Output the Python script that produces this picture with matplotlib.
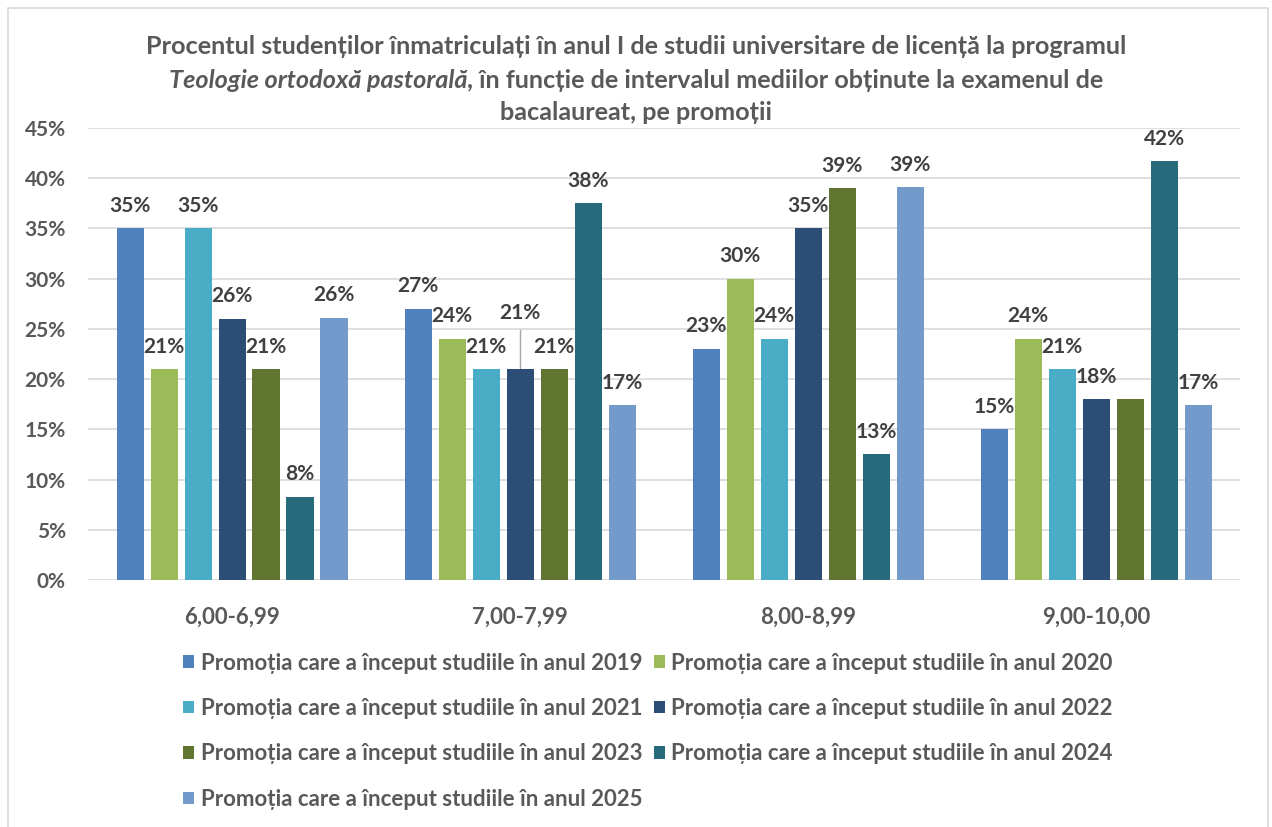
import matplotlib.pyplot as plt
import matplotlib.patches as mpatches
import numpy as np

# Date
categorii = ['6,00-6,99', '7,00-7,99', '8,00-8,99', '9,00-10,00']
promotii = ['2019', '2020', '2021', '2022', '2023', '2024', '2025']
p2019 = [35.0, 27.0, 23.0, 15.0]
p2020 = [21.0, 24.0, 30.0, 24.0]
p2021 = [35.0, 21.0, 24.0, 21.0]
p2022 = [26.0, 21.0, 35.0, 18.0]
p2023 = [21.0, 21.0, 39.0, 18.0]
p2024 = [8.3, 37.5, 12.5, 41.7]
p2025 = [26.1, 17.4, 39.1, 17.4]
valori = [p2019, p2020, p2021, p2022, p2023, p2024, p2025]
culori = ['#4F81BD', '#9BBB59', '#4BACC6', '#2C4D75', '#5F7530', '#276A7C', '#729ACA']

# etichete mutate manual (serie, categorie) -> deplasare in unitati de date; etichete ascunse
mutate = {(3, 1): 3.3}
ascunse = {(4, 3)}

plt.rcParams['font.family'] = ['Lato', 'DejaVu Sans']
GRI = '#595959'
TEXT = '#404040'

fig = plt.figure(figsize=(12.72, 8.27), dpi=100)
fig.patches.append(mpatches.Rectangle((0.006, -0.01), 0.991, 1.0, transform=fig.transFigure,
                                      fill=False, edgecolor='#D9D9D9', lw=1.2))
ax = fig.add_axes([0.0692, 0.2987, 0.9058, 0.5465])

x = np.arange(len(categorii))
pas = 0.118
latime = 0.094
for i, (serie, cul) in enumerate(zip(valori, culori)):
    poz = x + (i - 3) * pas
    ax.bar(poz, serie, width=latime, color=cul,
           label=f'Promoția care a început studiile în anul {promotii[i]}', zorder=3)
    for j, (px, v) in enumerate(zip(poz, serie)):
        if (i, j) in ascunse:
            continue
        dy = mutate.get((i, j), 0)
        ax.annotate(f'{int(v + 0.5)}%', (px, v + dy), xytext=(0, 9), textcoords='offset points',
                    ha='center', va='bottom', fontsize=15, fontweight='bold', color=TEXT, zorder=4)
        if dy:
            ax.plot([px, px], [v, v + dy + 0.6], color='#A6A6A6', lw=1, zorder=2)

ax.set_xlim(-0.5, len(categorii) - 0.5)
ax.set_ylim(0, 45)
ax.set_yticks(np.arange(0, 46, 5))
ax.set_yticklabels([f'{t}%' for t in range(0, 46, 5)])
ax.set_xticks(x)
ax.set_xticklabels(categorii)
ax.tick_params(axis='both', length=0, labelsize=15, labelcolor=GRI)
ax.tick_params(axis='x', labelsize=16, pad=19)
ax.tick_params(axis='y', pad=16)
for lab in ax.get_xticklabels() + ax.get_yticklabels():
    lab.set_fontweight('bold')
ax.grid(axis='y', color='#D9D9D9', lw=1.2, zorder=0)
for s in ax.spines.values():
    s.set_visible(False)

# titlu cu portiune italica
tfs = 18.2
fig.text(0.5, 1 - 47 / 827, 'Procentul studenților înmatriculați în anul I de studii universitare de licență la programul',
         ha='center', va='center', fontsize=tfs, fontweight='bold', color=GRI)
fig.text(0.5, 1 - 113 / 827, 'bacalaureat, pe promoții', ha='center', va='center',
         fontsize=tfs, fontweight='bold', color=GRI)
parte1 = 'Teologie ortodoxă pastorală'
parte2 = ', în funcție de intervalul mediilor obținute la examenul de'
r = fig.canvas.get_renderer()
t1 = fig.text(0, 1 - 80 / 827, parte1, ha='left', va='center', fontsize=tfs, fontweight='bold',
              style='italic', color=GRI)
t2 = fig.text(0, 1 - 80 / 827, parte2, ha='left', va='center', fontsize=tfs, fontweight='bold', color=GRI)
w1 = t1.get_window_extent(r).width / fig.bbox.width
w2 = t2.get_window_extent(r).width / fig.bbox.width
start = 0.5 - (w1 + w2) / 2
t1.set_x(start)
t2.set_x(start + w1)

# legenda pe randuri: 2019 2020 / 2021 2022 / 2023 2024 / 2025
handles, labels = ax.get_legend_handles_labels()
ordine = [0, 2, 4, 6, 1, 3, 5]
leg = fig.legend([handles[k] for k in ordine], [labels[k] for k in ordine], loc='upper left',
                 bbox_to_anchor=(0.144, 0.211), ncol=2, frameon=False, fontsize=16,
                 handlelength=0.5, handleheight=0.5, handletextpad=0.3,
                 columnspacing=0.5, labelspacing=1.1, borderaxespad=0, borderpad=0)
for t in leg.get_texts():
    t.set_color(GRI)
    t.set_fontweight('bold')

fig.savefig('out.png', dpi=100)
